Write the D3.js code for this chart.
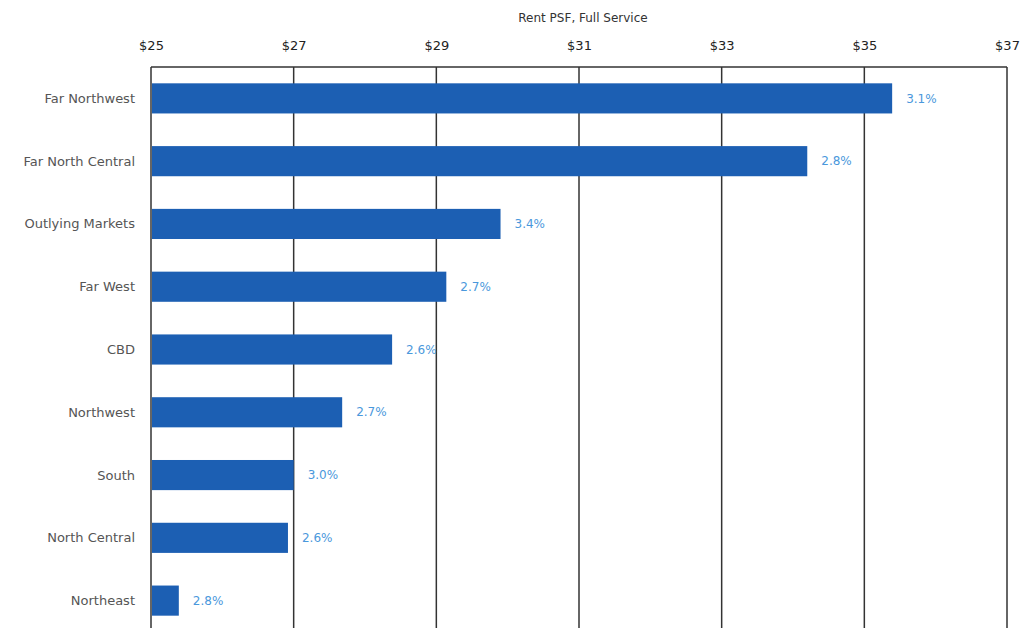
<!DOCTYPE html>
<html>
<head>
<meta charset="utf-8">
<script src="https://cdn.jsdelivr.net/npm/d3@7"></script>
<style>
  body { margin: 0; background: #fff; }
  text { font-family: "DejaVu Sans", sans-serif; }
</style>
</head>
<body>
<svg width="1024" height="628"></svg>
<script>
var markets = ["Far Northwest", "Far North Central", "Outlying Markets", "Far West", "CBD",
               "Northwest", "South", "North Central", "Northeast"];
var rents = [35.39, 34.2, 29.9, 29.14, 28.38, 27.68, 27.0, 26.92, 25.39];
var growth = ["3.1%", "2.8%", "3.4%", "2.7%", "2.6%", "2.7%", "3.0%", "2.6%", "2.8%"];
var ticks = [25, 27, 29, 31, 33, 35, 37];

var svg = d3.select("svg");

var plotLeft = 151, plotRight = 1007, plotTop = 67, plotBottom = 632;

var x = d3.scaleLinear()
    .domain([25, 37])
    .range([plotLeft, plotRight]);

var y = d3.scaleBand()
    .domain(markets)
    .range([plotTop, plotBottom])
    .paddingInner(0.52)
    .paddingOuter(0.26);

// axis title
svg.append("text")
    .attr("x", 583)
    .attr("y", 22)
    .attr("text-anchor", "middle")
    .attr("font-size", 12)
    .attr("fill", "#333")
    .text("Rent PSF, Full Service");

// top axis labels
var axis = d3.axisTop(x)
    .tickValues(ticks)
    .tickSize(0)
    .tickPadding(0)
    .tickFormat(function(d) { return "$" + d; });

var gAxis = svg.append("g")
    .attr("transform", "translate(0,50)")
    .call(axis);
gAxis.select(".domain").remove();
gAxis.selectAll("text")
    .attr("font-size", 13)
    .attr("fill", "#222")
    .style("font-family", "'DejaVu Sans', sans-serif");

// gridlines
svg.append("g").selectAll("line")
    .data(ticks)
    .enter()
    .append("line")
    .attr("x1", function(d) { return x(d); })
    .attr("x2", function(d) { return x(d); })
    .attr("y1", plotTop)
    .attr("y2", 628)
    .attr("stroke", "#333")
    .attr("stroke-width", 1.5);

// top border
svg.append("line")
    .attr("x1", plotLeft)
    .attr("x2", plotRight)
    .attr("y1", plotTop)
    .attr("y2", plotTop)
    .attr("stroke", "#333")
    .attr("stroke-width", 1.5);

// bars
svg.append("g").selectAll("rect")
    .data(rents)
    .enter()
    .append("rect")
    .attr("x", x(25) + 1)
    .attr("y", function(d, i) { return y(markets[i]); })
    .attr("width", function(d) { return x(d) - x(25) - 1; })
    .attr("height", y.bandwidth())
    .attr("fill", "#1c5fb3");

// category labels
svg.append("g").selectAll("text")
    .data(markets)
    .enter()
    .append("text")
    .attr("x", 135)
    .attr("y", function(d) { return y(d) + y.bandwidth() / 2; })
    .attr("dy", "0.35em")
    .attr("text-anchor", "end")
    .attr("font-size", 13)
    .attr("fill", "#555")
    .text(function(d) { return d; });

// growth labels
svg.append("g").selectAll("text")
    .data(rents)
    .enter()
    .append("text")
    .attr("x", function(d) { return x(d) + 14; })
    .attr("y", function(d, i) { return y(markets[i]) + y.bandwidth() / 2; })
    .attr("dy", "0.35em")
    .attr("font-size", 12)
    .attr("fill", "#4a98dc")
    .text(function(d, i) { return growth[i]; });
</script>
</body>
</html>
